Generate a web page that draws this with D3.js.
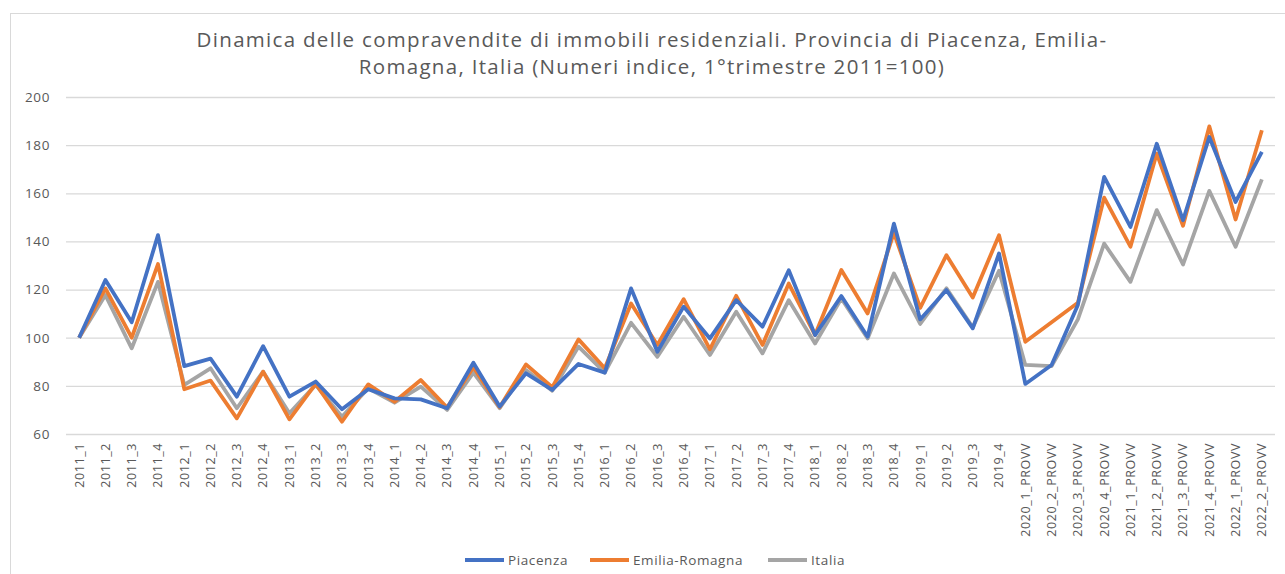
<!DOCTYPE html>
<html>
<head>
<meta charset="utf-8">
<script src="https://cdn.jsdelivr.net/npm/d3@7"></script>
<style>
  html, body { margin: 0; padding: 0; background: #fff; }
  svg { display: block; font-family: "Open Sans", sans-serif; }
</style>
</head>
<body>
<div id="chart"></div>
<script>
var
  quarters = [
    "2011_1","2011_2","2011_3","2011_4","2012_1","2012_2","2012_3","2012_4",
    "2013_1","2013_2","2013_3","2013_4","2014_1","2014_2","2014_3","2014_4",
    "2015_1","2015_2","2015_3","2015_4","2016_1","2016_2","2016_3","2016_4",
    "2017_1","2017_2","2017_3","2017_4","2018_1","2018_2","2018_3","2018_4",
    "2019_1","2019_2","2019_3","2019_4",
    "2020_1_PROVV","2020_2_PROVV","2020_3_PROVV","2020_4_PROVV",
    "2021_1_PROVV","2021_2_PROVV","2021_3_PROVV","2021_4_PROVV",
    "2022_1_PROVV","2022_2_PROVV"
  ],
  piacenza = [
    100, 124, 106.4, 142.6, 88.2, 91.3, 75.5, 96.5,
    75.5, 81.8, 70.3, 78.6, 74.8, 74.4, 70.7, 89.6,
    71.4, 85.2, 78.3, 89.1, 85.5, 120.5, 94.2, 112.9,
    99.7, 115.6, 104.6, 128, 101.1, 117.3, 100.4, 147.4,
    107.6, 119.8, 103.9, 135,
    80.8, 88.7, 113.6, 166.8,
    146, 180.6, 148.8, 183.4,
    156.4, 177.2
  ],
  emiliaRomagna = [
    100, 120.5, 100, 130.6, 78.6, 82.2, 66.5, 85.9,
    66.1, 80.8, 65.1, 80.6, 73.4, 82.4, 71, 87.7,
    71.1, 88.9, 79.4, 99.3, 87.3, 114.2, 97, 116,
    95.2, 117.4, 97, 122.5, 101.1, 128.1, 110.1, 143.6,
    112.4, 134.3, 116.7, 142.6,
    98.3, 106.4, 114.5, 158.2,
    137.8, 176.5, 146.5, 187.8,
    149.1, 186.2
  ],
  italia = [
    100, 117.7, 95.6, 123.2, 80.4, 87.3, 70.7, 85.9,
    68.6, 80.4, 67.2, 79, 73, 79.7, 70, 85.5,
    70.7, 86.6, 78, 96.3, 85.5, 106.2, 92.1, 108.7,
    92.8, 110.8, 93.5, 115.6, 97.6, 116.3, 99.7, 126.7,
    105.7, 120.5, 104.3, 127.8,
    88.7, 88.2, 107.6, 139.1,
    123.2, 153, 130.4, 161,
    137.8, 165.8
  ],
  yTicks = [60, 80, 100, 120, 140, 160, 180, 200],
  seriesNames = ["Piacenza", "Emilia-Romagna", "Italia"],
  seriesColors = ["#4472C4", "#ED7D31", "#A5A5A5"],
  titleLines = [
    "Dinamica delle compravendite di immobili residenziali. Provincia di Piacenza, Emilia-",
    "Romagna, Italia (Numeri indice, 1°trimestre 2011=100)"
  ];

var
  WIDTH = 1285,
  HEIGHT = 574,
  PLOT_LEFT = 66,
  PLOT_RIGHT = 1275,
  PLOT_TOP = 97,
  PLOT_BOTTOM = 434,
  TEXT_COLOR = "#595959",
  GRID_COLOR = "#D9D9D9";

var svg = d3.select("#chart").append("svg")
  .attr("width", WIDTH)
  .attr("height", HEIGHT);

svg.append("rect")
  .attr("width", WIDTH)
  .attr("height", HEIGHT)
  .attr("fill", "#fff");

// outer chart border (cut off at right / bottom in the screenshot)
svg.append("rect")
  .attr("x", 10.5)
  .attr("y", 13.5)
  .attr("width", WIDTH + 20)
  .attr("height", HEIGHT + 20)
  .attr("fill", "none")
  .attr("stroke", "#D9D9D9");

var x = d3.scaleBand()
  .domain(quarters)
  .range([PLOT_LEFT, PLOT_RIGHT]);

var y = d3.scaleLinear()
  .domain([60, 200])
  .range([PLOT_BOTTOM, PLOT_TOP]);

// title
svg.append("g")
  .selectAll("text")
  .data(titleLines)
  .join("text")
  .attr("x", 652)
  .attr("y", function(d, i){ return 47 + i * 27; })
  .attr("text-anchor", "middle")
  .attr("fill", TEXT_COLOR)
  .attr("font-size", 20.5)
  .attr("letter-spacing", 1.3)
  .text(function(d){ return d; });

// y axis: gridlines and labels only
var yAxis = svg.append("g")
  .attr("transform", "translate(" + PLOT_LEFT + ",0)")
  .call(d3.axisLeft(y).tickValues(yTicks).tickSize(-(PLOT_RIGHT - PLOT_LEFT)).tickPadding(16));
yAxis.select(".domain").remove();
yAxis.selectAll(".tick line").attr("stroke", GRID_COLOR).attr("stroke-width", 1.3);
yAxis.selectAll(".tick text")
  .attr("fill", TEXT_COLOR)
  .attr("font-size", 13.5)
  .attr("font-family", "Open Sans, sans-serif")
  .attr("letter-spacing", 0.6);

// x axis labels, rotated
var xAxis = svg.append("g")
  .attr("transform", "translate(0," + PLOT_BOTTOM + ")")
  .call(d3.axisBottom(x).tickSize(0).tickPadding(0));
xAxis.select(".domain").remove();
xAxis.selectAll(".tick text")
  .attr("transform", "rotate(-90)")
  .attr("text-anchor", "end")
  .attr("x", -9)
  .attr("y", 0)
  .attr("dy", "0.35em")
  .attr("fill", TEXT_COLOR)
  .attr("font-size", 12.5)
  .attr("font-family", "Open Sans, sans-serif")
  .attr("letter-spacing", 0.6);

// lines
var line = d3.line()
  .x(function(d, i){ return x(quarters[i]) + x.bandwidth() / 2; })
  .y(function(d){ return y(d); });

var allSeries = [piacenza, emiliaRomagna, italia];
var order = [2, 1, 0];
order.forEach(function(k){
  svg.append("path")
    .datum(allSeries[k])
    .attr("fill", "none")
    .attr("stroke", seriesColors[k])
    .attr("stroke-width", 3.8)
    .attr("stroke-linejoin", "round")
    .attr("d", line);
});

// legend
var legendX = [465, 590, 768];
var legend = svg.append("g")
  .selectAll("g")
  .data(seriesNames)
  .join("g")
  .attr("transform", function(d, i){ return "translate(" + legendX[i] + ",560)"; });
legend.append("line")
  .attr("x1", 0)
  .attr("x2", 39)
  .attr("stroke", function(d, i){ return seriesColors[i]; })
  .attr("stroke-width", 3.8);
legend.append("text")
  .attr("x", 43)
  .attr("dy", "0.35em")
  .attr("fill", TEXT_COLOR)
  .attr("font-size", 13.5)
  .attr("letter-spacing", 0.6)
  .text(function(d){ return d; });
</script>
</body>
</html>
